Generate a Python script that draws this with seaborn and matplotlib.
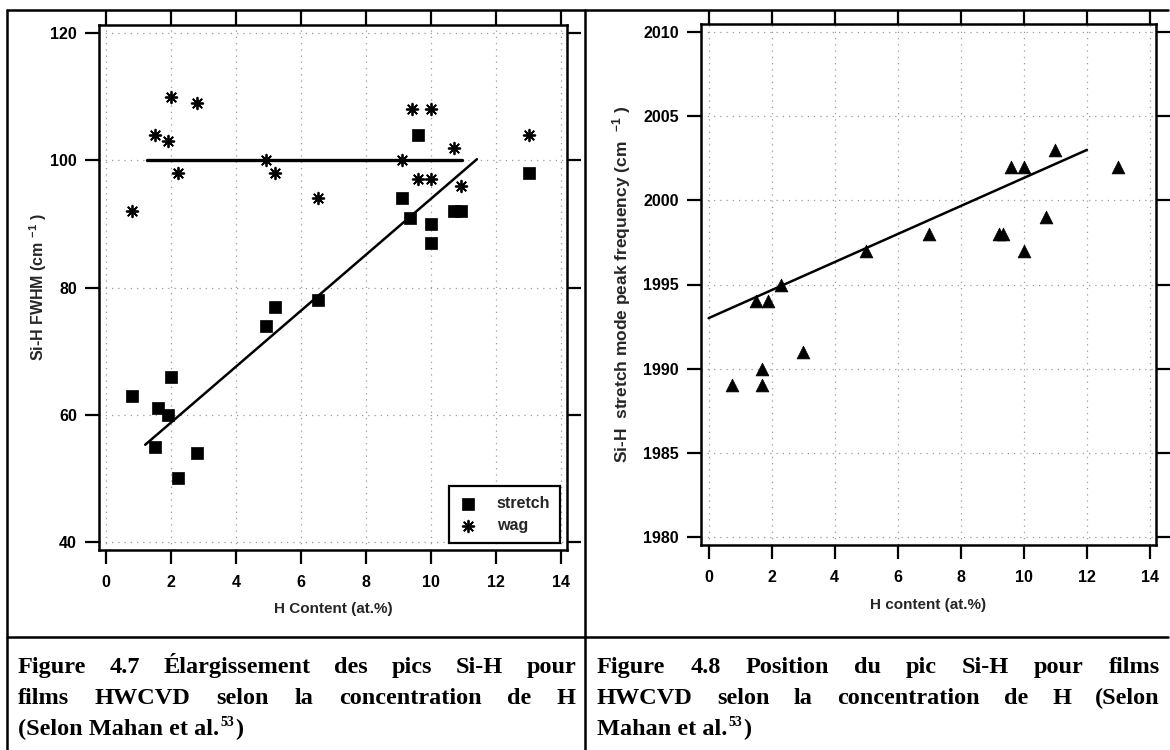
import numpy as np
import pandas as pd
import matplotlib
matplotlib.use("Agg")
import matplotlib.pyplot as plt
from matplotlib.lines import Line2D
import seaborn as sns

# ---- Figure 4.7 : Si-H FWHM versus H content ----
stretch_h = [0.8, 1.5, 1.6, 1.9, 2.0, 2.2, 2.8, 4.9, 5.2, 6.5,
             9.1, 9.35, 9.6, 10.0, 10.0, 10.7, 10.9, 13.0]
stretch_fwhm = [63, 55, 61, 60, 66, 50, 54, 74, 77, 78,
                94, 91, 104, 90, 87, 92, 92, 98]
wag_h = [0.8, 1.5, 1.9, 2.0, 2.2, 2.8, 4.9, 5.2, 6.5,
         9.1, 9.4, 10.0, 9.6, 10.0, 10.7, 10.9, 13.0]
wag_fwhm = [92, 104, 103, 110, 98, 109, 100, 98, 94,
            100, 108, 108, 97, 97, 102, 96, 104]
stretch_fit_range = [1.2, 11.4]
stretch_fit_coef = (50.0, 4.4)      # intercept, slope
wag_fit_range = [1.25, 10.95]
wag_fit_level = 100.0

# ---- Figure 4.8 : Si-H stretch peak position versus H content ----
peak_h = [0.75, 1.5, 1.7, 1.7, 1.9, 2.3, 3.0, 5.0, 7.0,
          9.2, 9.35, 9.6, 10.0, 10.0, 10.7, 11.0, 13.0]
peak_freq = [1989, 1994, 1990, 1989, 1994, 1995, 1991, 1997, 1998,
             1998, 1998, 2002, 2002, 1997, 1999, 2003, 2002]
peak_fit_range = [0.0, 12.0]
peak_fit_coef = (1993.0, 0.8333)

x_ticks = [0, 2, 4, 6, 8, 10, 12, 14]
fwhm_ticks = [40, 60, 80, 100, 120]
freq_ticks = [1980, 1985, 1990, 1995, 2000, 2005, 2010]

caption_left = ["Figure 4.7 Élargissement des pics Si-H pour",
                "films HWCVD selon la concentration de H",
                "(Selon Mahan et al."]
caption_right = ["Figure 4.8 Position du pic Si-H pour films",
                 "HWCVD selon la concentration de H (Selon",
                 "Mahan et al."]
ref_number = "53"

sns.set_theme(style="white")
plt.rcParams["font.family"] = ["Liberation Sans", "DejaVu Sans"]
plt.rcParams["font.weight"] = "bold"
plt.rcParams["mathtext.fontset"] = "custom"
plt.rcParams["mathtext.rm"] = "Liberation Sans:bold"
plt.rcParams["mathtext.it"] = "Liberation Sans:bold"
plt.rcParams["mathtext.default"] = "regular"

W, H = 1170, 750
fig = plt.figure(figsize=(W / 100, H / 100), dpi=100)
fig.patch.set_facecolor("white")


def fig_axes(x0, x1, top, bottom):
    return fig.add_axes([x0 / W, 1 - bottom / H, (x1 - x0) / W, (bottom - top) / H])


def style_axes(ax):
    for sp in ax.spines.values():
        sp.set_color("black")
        sp.set_linewidth(1.8)
        sp.set_visible(True)
    ax.tick_params(which="both", direction="out", length=10, width=1.6,
                   color="black", labelsize=11.5, labelcolor="black",
                   top=True, right=True, bottom=True, left=True,
                   labeltop=False, labelright=False)
    ax.tick_params(axis="x", pad=8)
    ax.tick_params(axis="y", pad=6)
    for lab in ax.get_xticklabels() + ax.get_yticklabels():
        lab.set_fontweight("bold")
    ax.grid(True, linestyle=(0, (1, 4)), color="#9a9a9a", linewidth=0.9)
    ax.set_facecolor("white")


# ---- left panel ----
axL = fig_axes(99, 567, 25, 550)
sns.scatterplot(x=stretch_h, y=stretch_fwhm, ax=axL, marker="s", s=75,
                color="black", edgecolor="black", linewidth=0.5,
                label="stretch", zorder=3)
sns.scatterplot(x=wag_h, y=wag_fwhm, ax=axL, marker=(8, 2, 0), s=70,
                color="black", linewidth=1.3, label="wag", zorder=3)
fx = np.array(stretch_fit_range)
sns.lineplot(x=fx, y=stretch_fit_coef[0] + stretch_fit_coef[1] * fx, ax=axL,
             color="black", linewidth=1.8, zorder=2)
wx = np.array(wag_fit_range)
sns.lineplot(x=wx, y=np.full_like(wx, wag_fit_level), ax=axL,
             color="black", linewidth=2.4, zorder=2)
axL.set_xlim(-0.22, 14.17)
axL.set_ylim(38.74, 121.26)
axL.set_xticks(x_ticks)
axL.set_yticks(fwhm_ticks)
style_axes(axL)
axL.set_xlabel("H Content (at.%)", fontsize=11, fontweight="bold", labelpad=9)
axL.set_ylabel("Si-H FWHM (cm $^{-1}$ )", fontsize=11.5, fontweight="bold")
axL.yaxis.set_label_coords((38 - 99) / 468, 0.5)
axL.yaxis.label.set_verticalalignment("center")
leg = axL.legend(loc="lower right", frameon=True, fancybox=False,
                 edgecolor="black", borderaxespad=0.45,
                 prop=dict(size=11.5, weight="bold"),
                 handlelength=1.2, handletextpad=1.2, borderpad=0.6,
                 labelspacing=0.45)
leg.get_frame().set_linewidth(1.6)
leg.get_frame().set_alpha(1)

# ---- right panel ----
axR = fig_axes(701, 1156, 24, 545)
sns.scatterplot(x=peak_h, y=peak_freq, ax=axR, marker="^", s=85,
                color="black", edgecolor="black", linewidth=0.5, zorder=3)
px = np.array(peak_fit_range)
sns.lineplot(x=px, y=peak_fit_coef[0] + peak_fit_coef[1] * px, ax=axR,
             color="black", linewidth=1.8, zorder=2)
axR.set_xlim(-0.24, 14.19)
axR.set_ylim(1979.52, 2010.48)
axR.set_xticks(x_ticks)
axR.set_yticks(freq_ticks)
style_axes(axR)
axR.set_xlabel("H content (at.%)", fontsize=11, fontweight="bold", labelpad=9)
axR.set_ylabel("Si-H  stretch mode peak frequency (cm  $^{-1}$ )",
               fontsize=12.5, fontweight="bold")
axR.yaxis.set_label_coords((622 - 701) / 455, 0.5)
axR.yaxis.label.set_verticalalignment("center")

# ---- table frame ----
def hline(y, x0, x1, lw=1.8):
    fig.add_artist(Line2D([x0 / W, x1 / W], [1 - y / H, 1 - y / H],
                          color="black", linewidth=lw))


def vline(x, y0, y1, lw=1.8):
    fig.add_artist(Line2D([x / W, x / W], [1 - y0 / H, 1 - y1 / H],
                          color="black", linewidth=lw))


hline(10, 7, 1168)
hline(637, 7, 1168)
vline(7, 10, 750)
vline(585, 10, 750)

# ---- captions (justified bold serif text) ----
cap_font = dict(family="Liberation Serif", weight="bold", size=17.5,
                color="black")
renderer = fig.canvas.get_renderer()


def text_width(s, **kw):
    t = fig.text(0, 0, s, **kw)
    w = t.get_window_extent(renderer).width
    t.remove()
    return w


def draw_caption(lines, x0, x1, baselines):
    for i, line in enumerate(lines):
        yb = 1 - baselines[i] / H
        words = line.split(" ")
        if i < len(lines) - 1:
            widths = [text_width(w, **cap_font) for w in words]
            gap = (x1 - x0 - sum(widths)) / (len(words) - 1)
            x = x0
            for w, wd in zip(words, widths):
                fig.text(x / W, yb, w, ha="left", va="baseline", **cap_font)
                x += wd + gap
        else:
            fig.text(x0 / W, yb, line, ha="left", va="baseline", **cap_font)
            x = x0 + text_width(line, **cap_font)
            sup = dict(cap_font, size=10)
            fig.text((x + 1) / W, yb + 9 / H, ref_number, ha="left",
                     va="baseline", **sup)
            x += 1 + text_width(ref_number, **sup)
            fig.text((x + 1) / W, yb, ")", ha="left", va="baseline", **cap_font)


draw_caption(caption_left, 18, 576, [673, 704, 735])
draw_caption(caption_right, 597, 1160, [673, 704, 735])

fig.savefig("out.png", dpi=100, facecolor="white")
